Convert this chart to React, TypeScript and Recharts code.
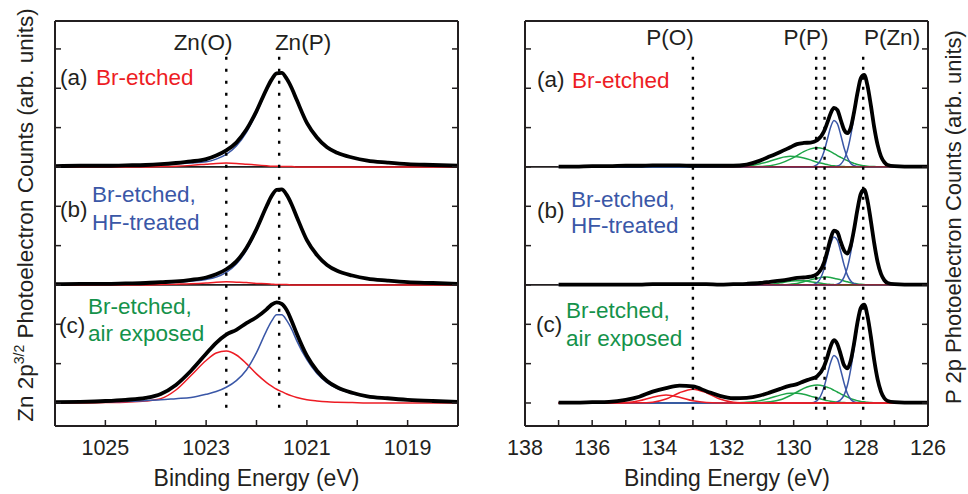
import React from 'react';
import { LineChart, Line, XAxis, YAxis, ReferenceLine } from 'recharts';

// ---------- Zn 2p3/2 panel ----------
const znEnergy = [1026, 1025.5, 1025, 1024.6, 1024.2, 1023.9, 1023.6, 1023.3, 1023.0, 1022.8, 1022.6, 1022.4, 1022.2, 1022.0, 1021.8, 1021.7, 1021.6, 1021.5, 1021.4, 1021.3, 1021.2, 1021.0, 1020.8, 1020.6, 1020.4, 1020.1, 1019.8, 1019.4, 1019.0, 1018.5, 1018.0];

const znBlackA = [0.02, 0.03, 0.03, 0.04, 0.05, 0.07, 0.10, 0.14, 0.20, 0.29, 0.42, 0.62, 0.95, 1.42, 1.98, 2.22, 2.38, 2.39, 2.24, 2.00, 1.70, 1.12, 0.75, 0.50, 0.36, 0.24, 0.16, 0.11, 0.07, 0.05, 0.03];
const znBlueA = [0.02, 0.03, 0.03, 0.04, 0.05, 0.06, 0.08, 0.10, 0.13, 0.20, 0.32, 0.53, 0.88, 1.37, 1.95, 2.20, 2.36, 2.38, 2.23, 1.99, 1.70, 1.12, 0.75, 0.50, 0.36, 0.24, 0.16, 0.11, 0.07, 0.05, 0.03];
const znRedA = [0, 0, 0, 0, 0, 0.01, 0.02, 0.04, 0.07, 0.09, 0.10, 0.09, 0.07, 0.05, 0.03, 0.02, 0.02, 0.01, 0.01, 0.01, 0, 0, 0, 0, 0, 0, 0, 0, 0, 0, 0];

const znBlackB = [0.02, 0.03, 0.03, 0.04, 0.05, 0.07, 0.09, 0.13, 0.19, 0.27, 0.40, 0.60, 0.94, 1.42, 2.00, 2.26, 2.42, 2.43, 2.29, 2.04, 1.73, 1.14, 0.76, 0.51, 0.36, 0.24, 0.16, 0.11, 0.07, 0.05, 0.03];
const znBlueB = [0.02, 0.03, 0.03, 0.04, 0.05, 0.06, 0.07, 0.10, 0.14, 0.20, 0.32, 0.53, 0.88, 1.38, 1.97, 2.24, 2.41, 2.42, 2.28, 2.04, 1.73, 1.14, 0.76, 0.51, 0.36, 0.24, 0.16, 0.11, 0.07, 0.05, 0.03];
const znRedB = [0, 0, 0, 0, 0, 0.01, 0.02, 0.03, 0.05, 0.07, 0.08, 0.07, 0.06, 0.04, 0.03, 0.02, 0.01, 0.01, 0.01, 0, 0, 0, 0, 0, 0, 0, 0, 0, 0, 0, 0];

const znBlackC = [0.02, 0.03, 0.05, 0.08, 0.13, 0.23, 0.46, 0.82, 1.25, 1.53, 1.74, 1.86, 2.03, 2.18, 2.38, 2.50, 2.56, 2.52, 2.36, 2.08, 1.76, 1.20, 0.82, 0.56, 0.40, 0.26, 0.17, 0.12, 0.08, 0.05, 0.03];
const znBlueC = [0.01, 0.02, 0.03, 0.04, 0.06, 0.08, 0.11, 0.14, 0.22, 0.29, 0.40, 0.57, 0.84, 1.28, 1.84, 2.08, 2.24, 2.24, 2.10, 1.87, 1.58, 1.10, 0.75, 0.52, 0.37, 0.24, 0.16, 0.11, 0.07, 0.05, 0.03];
const znRedC = [0, 0, 0.01, 0.02, 0.05, 0.11, 0.33, 0.70, 1.08, 1.27, 1.32, 1.22, 1.00, 0.74, 0.52, 0.43, 0.35, 0.29, 0.23, 0.18, 0.14, 0.08, 0.05, 0.03, 0.02, 0.01, 0, 0, 0, 0, 0];

const znTicks = [1019, 1020, 1021, 1022, 1023, 1024, 1025];
const znTickLabels = [1019, 1021, 1023, 1025];
const znMarkers = [1022.6, 1021.55];

// ---------- P 2p panel ----------
const pEnergy = [137.0, 136.5, 136.0, 135.5, 135.0, 134.6, 134.2, 133.8, 133.4, 133.0, 132.6, 132.2, 131.8, 131.4, 131.0, 130.7, 130.4, 130.1, 129.9, 129.7, 129.5, 129.3, 129.1, 129.0, 128.9, 128.8, 128.7, 128.6, 128.5, 128.4, 128.3, 128.2, 128.1, 128.0, 127.9, 127.8, 127.7, 127.6, 127.5, 127.4, 127.3, 127.2, 127.0, 126.7, 126.4, 126.0];

const pBlackA = [0.01, 0.01, 0.02, 0.02, 0.03, 0.03, 0.04, 0.04, 0.04, 0.03,
  0.03, 0.03, 0.03, 0.06, 0.16, 0.27, 0.38, 0.50, 0.58, 0.61,
  0.62, 0.68, 0.90, 1.12, 1.36, 1.50, 1.45, 1.20, 0.95, 0.86,
  1.00, 1.40, 1.88, 2.26, 2.34, 2.06, 1.56, 1.00, 0.56, 0.27,
  0.12, 0.05, 0.02, 0.01, 0.01, 0.01];
const pBlue1A = [0, 0, 0, 0, 0, 0, 0, 0, 0, 0,
  0, 0, 0, 0, 0, 0, 0, 0, 0, 0,
  0, 0, 0, 0, 0, 0, 0.02, 0.07, 0.19, 0.42,
  0.80, 1.31, 1.84, 2.21, 2.28, 2.02, 1.53, 0.99, 0.55, 0.26,
  0.11, 0.04, 0, 0, 0, 0];
const pBlue2A = [0, 0, 0, 0, 0, 0, 0, 0, 0, 0,
  0, 0, 0, 0, 0, 0, 0, 0, 0, 0,
  0, 0.06, 0.38, 0.69, 1.01, 1.18, 1.10, 0.82, 0.49, 0.24,
  0.09, 0.03, 0.01, 0, 0, 0, 0, 0, 0, 0,
  0, 0, 0, 0, 0, 0];
const pGreen1A = [0, 0, 0, 0, 0, 0, 0, 0, 0, 0,
  0, 0, 0, 0, 0.01, 0.03, 0.09, 0.20, 0.29, 0.39,
  0.46, 0.49, 0.46, 0.43, 0.39, 0.34, 0.29, 0.245, 0.20, 0.16,
  0.12, 0.09, 0.06, 0.045, 0.03, 0.02, 0.013, 0.01, 0.005, 0,
  0, 0, 0, 0, 0, 0];
const pGreen2A = [0, 0, 0, 0, 0, 0, 0, 0, 0, 0,
  0, 0, 0, 0.02, 0.08, 0.15, 0.23, 0.27, 0.26, 0.23,
  0.18, 0.12, 0.08, 0.06, 0.04, 0.03, 0.02, 0.01, 0.01, 0,
  0, 0, 0, 0, 0, 0, 0, 0, 0, 0,
  0, 0, 0, 0, 0, 0];
const pRedA = [0, 0, 0.005, 0.01, 0.015, 0.02, 0.02, 0.02, 0.02, 0.015,
  0.01, 0.005, 0, 0, 0, 0, 0, 0, 0, 0,
  0, 0, 0, 0, 0, 0, 0, 0, 0, 0,
  0, 0, 0, 0, 0, 0, 0, 0, 0, 0,
  0, 0, 0, 0, 0, 0];

const pBlackB = [0.01, 0.01, 0.01, 0.01, 0.01, 0.01, 0.02, 0.02, 0.02, 0.02,
  0.02, 0.01, 0.02, 0.03, 0.05, 0.08, 0.11, 0.15, 0.18, 0.19,
  0.21, 0.28, 0.56, 0.85, 1.18, 1.38, 1.34, 1.10, 0.88, 0.80,
  1.00, 1.42, 1.92, 2.32, 2.42, 2.14, 1.62, 1.05, 0.58, 0.28,
  0.12, 0.05, 0.02, 0.01, 0.01, 0.01];
const pBlue1B = [0, 0, 0, 0, 0, 0, 0, 0, 0, 0,
  0, 0, 0, 0, 0, 0, 0, 0, 0, 0,
  0, 0, 0, 0, 0, 0, 0.02, 0.07, 0.20, 0.44,
  0.83, 1.36, 1.90, 2.29, 2.36, 2.09, 1.59, 1.03, 0.57, 0.27,
  0.11, 0.04, 0, 0, 0, 0];
const pBlue2B = [0, 0, 0, 0, 0, 0, 0, 0, 0, 0,
  0, 0, 0, 0, 0, 0, 0, 0, 0, 0,
  0, 0.06, 0.39, 0.71, 1.04, 1.22, 1.14, 0.85, 0.51, 0.25,
  0.10, 0.03, 0.01, 0, 0, 0, 0, 0, 0, 0,
  0, 0, 0, 0, 0, 0];
const pGreen1B = [0, 0, 0, 0, 0, 0, 0, 0, 0, 0,
  0, 0, 0, 0, 0, 0, 0, 0.02, 0.04, 0.08,
  0.13, 0.17, 0.20, 0.20, 0.19, 0.17, 0.15, 0.13, 0.10, 0.08,
  0.055, 0.04, 0.025, 0.016, 0.01, 0.005, 0, 0, 0, 0,
  0, 0, 0, 0, 0, 0];
const pGreen2B = [0, 0, 0, 0, 0, 0, 0, 0, 0, 0,
  0, 0, 0, 0, 0.005, 0.02, 0.055, 0.095, 0.11, 0.105,
  0.083, 0.055, 0.03, 0.02, 0.014, 0.009, 0.005, 0, 0, 0,
  0, 0, 0, 0, 0, 0, 0, 0, 0, 0,
  0, 0, 0, 0, 0, 0];
const pRedB = [0, 0, 0, 0, 0, 0, 0.01, 0.01, 0.01, 0.01,
  0, 0, 0, 0, 0, 0, 0, 0, 0, 0,
  0, 0, 0, 0, 0, 0, 0, 0, 0, 0,
  0, 0, 0, 0, 0, 0, 0, 0, 0, 0,
  0, 0, 0, 0, 0, 0];

const pBlackC = [0.01, 0.01, 0.02, 0.03, 0.08, 0.16, 0.29, 0.38, 0.44, 0.42,
  0.30, 0.18, 0.12, 0.13, 0.19, 0.27, 0.36, 0.44, 0.48, 0.55,
  0.61, 0.68, 0.92, 1.16, 1.44, 1.60, 1.50, 1.24, 0.96, 0.88,
  1.08, 1.52, 2.05, 2.42, 2.50, 2.20, 1.68, 1.08, 0.60, 0.29,
  0.12, 0.05, 0.02, 0.01, 0.01, 0.01];
const pBlue1C = [0, 0, 0, 0, 0, 0, 0, 0, 0, 0,
  0, 0, 0, 0, 0, 0, 0, 0, 0, 0,
  0, 0, 0, 0, 0, 0, 0.03, 0.08, 0.20, 0.45,
  0.86, 1.40, 1.96, 2.36, 2.43, 2.15, 1.63, 1.06, 0.59, 0.28,
  0.12, 0.04, 0, 0, 0, 0];
const pBlue2C = [0, 0, 0, 0, 0, 0, 0, 0, 0, 0,
  0, 0, 0, 0, 0, 0, 0, 0, 0, 0,
  0, 0.06, 0.39, 0.71, 1.03, 1.21, 1.13, 0.84, 0.51, 0.24,
  0.09, 0.03, 0.01, 0, 0, 0, 0, 0, 0, 0,
  0, 0, 0, 0, 0, 0];
const pGreen1C = [0, 0, 0, 0, 0, 0, 0, 0, 0, 0,
  0, 0, 0, 0, 0.01, 0.03, 0.08, 0.19, 0.28, 0.37,
  0.43, 0.46, 0.43, 0.40, 0.37, 0.32, 0.28, 0.23, 0.19, 0.15,
  0.11, 0.08, 0.06, 0.04, 0.03, 0.02, 0.012, 0.008, 0.005, 0,
  0, 0, 0, 0, 0, 0];
const pGreen2C = [0, 0, 0, 0, 0, 0, 0, 0, 0, 0,
  0, 0, 0.003, 0.016, 0.06, 0.125, 0.20, 0.247, 0.247, 0.22,
  0.175, 0.125, 0.08, 0.06, 0.045, 0.033, 0.023, 0.016, 0.01, 0.007,
  0.004, 0, 0, 0, 0, 0, 0, 0, 0, 0,
  0, 0, 0, 0, 0, 0];
const pRed1C = [0, 0, 0, 0, 0, 0.003, 0.02, 0.10, 0.26, 0.35,
  0.26, 0.10, 0.02, 0.003, 0, 0, 0, 0, 0, 0,
  0, 0, 0, 0, 0, 0, 0, 0, 0, 0,
  0, 0, 0, 0, 0, 0, 0, 0, 0, 0,
  0, 0, 0, 0, 0, 0];
const pRed2C = [0, 0, 0, 0.002, 0.013, 0.058, 0.147, 0.20, 0.147, 0.058,
  0.013, 0.002, 0, 0, 0, 0, 0, 0, 0, 0,
  0, 0, 0, 0, 0, 0, 0, 0, 0, 0,
  0, 0, 0, 0, 0, 0, 0, 0, 0, 0,
  0, 0, 0, 0, 0, 0];

const pTicks = [126, 127, 128, 129, 130, 131, 132, 133, 134, 135, 136, 137, 138];
const pTickLabels = [126, 128, 130, 132, 134, 136, 138];
const pMarkers = [133.0, 129.33, 129.08, 127.93];

// vertical offsets of the three stacked spectra (a), (b), (c)
const offA = 6;
const offB = 3;
const offC = 0;
const yTicks = [0, 1, 2, 3, 4, 5, 6, 7, 8, 9];

// ---------- styles ----------
const FONT = '"Liberation Sans", Arial, Helvetica, sans-serif';
const INK = '#231f20';
const RED = '#ed1c24';
const BLUE = '#3a57a7';
const GREEN = '#1ea548';
const GREEN_TEXT = '#14924a';

type S = { key: string; values: number[]; offset: number; color: string; width: number };

const znSeries: S[] = [
  { key: 'redA', values: znRedA, offset: offA, color: RED, width: 1.5 },
  { key: 'blueA', values: znBlueA, offset: offA, color: BLUE, width: 1.5 },
  { key: 'blackA', values: znBlackA, offset: offA, color: '#000', width: 3.8 },
  { key: 'redB', values: znRedB, offset: offB, color: RED, width: 1.5 },
  { key: 'blueB', values: znBlueB, offset: offB, color: BLUE, width: 1.5 },
  { key: 'blackB', values: znBlackB, offset: offB, color: '#000', width: 3.8 },
  { key: 'redC', values: znRedC, offset: offC, color: RED, width: 1.5 },
  { key: 'blueC', values: znBlueC, offset: offC, color: BLUE, width: 1.5 },
  { key: 'blackC', values: znBlackC, offset: offC, color: '#000', width: 3.8 },
];

const pSeries: S[] = [
  { key: 'g1A', values: pGreen1A, offset: offA, color: GREEN, width: 1.5 },
  { key: 'g2A', values: pGreen2A, offset: offA, color: GREEN, width: 1.5 },
  { key: 'b1A', values: pBlue1A, offset: offA, color: BLUE, width: 1.5 },
  { key: 'b2A', values: pBlue2A, offset: offA, color: BLUE, width: 1.5 },
  { key: 'rA', values: pRedA, offset: offA, color: '#a3161c', width: 1.2 },
  { key: 'kA', values: pBlackA, offset: offA, color: '#000', width: 3.8 },
  { key: 'g1B', values: pGreen1B, offset: offB, color: GREEN, width: 1.5 },
  { key: 'g2B', values: pGreen2B, offset: offB, color: GREEN, width: 1.5 },
  { key: 'b1B', values: pBlue1B, offset: offB, color: BLUE, width: 1.5 },
  { key: 'b2B', values: pBlue2B, offset: offB, color: BLUE, width: 1.5 },
  { key: 'rB', values: pRedB, offset: offB, color: '#a3161c', width: 1.2 },
  { key: 'kB', values: pBlackB, offset: offB, color: '#000', width: 3.8 },
  { key: 'g1C', values: pGreen1C, offset: offC, color: GREEN, width: 1.5 },
  { key: 'g2C', values: pGreen2C, offset: offC, color: GREEN, width: 1.5 },
  { key: 'b1C', values: pBlue1C, offset: offC, color: BLUE, width: 1.5 },
  { key: 'b2C', values: pBlue2C, offset: offC, color: BLUE, width: 1.5 },
  { key: 'r1C', values: pRed1C, offset: offC, color: RED, width: 1.5 },
  { key: 'r2C', values: pRed2C, offset: offC, color: RED, width: 1.5 },
  { key: 'kC', values: pBlackC, offset: offC, color: '#000', width: 3.8 },
];

function buildRows(energy: number[], series: S[]) {
  return energy.map((e, i) => {
    const row: Record<string, number> = { e };
    series.forEach((s) => {
      row[s.key] = s.values[i] + s.offset;
    });
    return row;
  });
}

const znRows = buildRows(znEnergy, znSeries);
const pRows = buildRows(pEnergy, pSeries);

const Y_DOMAIN: [number, number] = [-0.585, 9.71];
const noTick = () => null;

type PanelProps = {
  rows: Record<string, number>[];
  series: S[];
  domain: [number, number];
  ticks: number[];
  labels: number[];
  markers: number[];
  dash: string;
  left: number;
  margin: { top: number; right: number; bottom: number; left: number };
};

function Panel({ rows, series, domain, ticks, labels, markers, dash, left, margin }: PanelProps) {
  const axisLine = { stroke: INK, strokeWidth: 2 };
  const tickLine = { stroke: INK, strokeWidth: 1.5 };
  return (
    <div style={{ position: 'absolute', left, top: 0 }}>
      <LineChart width={484} height={494} data={rows} margin={margin}>
        <XAxis
          dataKey="e"
          type="number"
          domain={domain}
          reversed
          allowDataOverflow
          ticks={ticks}
          interval={0}
          height={50}
          tickSize={-6}
          tickMargin={20}
          axisLine={axisLine}
          tickLine={tickLine}
          tickFormatter={(v: number) => (labels.includes(v) ? String(v) : '')}
          tick={{ fill: INK, fontSize: 21.5, fontFamily: FONT }}
        />
        <XAxis
          xAxisId="top"
          orientation="top"
          type="number"
          domain={domain}
          reversed
          allowDataOverflow
          ticks={ticks}
          interval={0}
          height={20}
          tickSize={-6}
          axisLine={axisLine}
          tickLine={tickLine}
          tick={noTick}
        />
        <YAxis
          type="number"
          domain={Y_DOMAIN}
          allowDataOverflow
          ticks={yTicks}
          interval={0}
          width={30}
          tickSize={-6}
          axisLine={axisLine}
          tickLine={tickLine}
          tick={noTick}
        />
        <YAxis
          yAxisId="r"
          orientation="right"
          type="number"
          domain={Y_DOMAIN}
          allowDataOverflow
          ticks={yTicks}
          interval={0}
          width={20}
          tickSize={-6}
          axisLine={axisLine}
          tickLine={tickLine}
          tick={noTick}
        />
        <ReferenceLine y={offA} stroke={INK} strokeWidth={1.8} />
        <ReferenceLine y={offB} stroke={INK} strokeWidth={1.8} />
        {series.map((s) => (
          <Line
            key={s.key}
            dataKey={s.key}
            type="monotone"
            stroke={s.color}
            strokeWidth={s.width}
            dot={false}
            activeDot={false}
            isAnimationActive={false}
          />
        ))}
        {markers.map((m) => (
          <ReferenceLine
            key={'m' + m}
            segment={[{ x: m, y: 8.8 }, { x: m, y: -0.2 }]}
            stroke="#000"
            strokeWidth={2.4}
            strokeDasharray={dash}
          />
        ))}
      </LineChart>
    </div>
  );
}

const T = ({ x, y, c = INK, a = 'start', s = 22.5, children }: any) => (
  <text x={x} y={y} fill={c} textAnchor={a} fontSize={s} fontFamily={FONT}>
    {children}
  </text>
);

export default function App() {
  return (
    <div style={{ position: 'absolute', left: 0, top: 0, width: 968, height: 494, background: '#fff', overflow: 'hidden' }}>
      <Panel
        rows={znRows}
        series={znSeries}
        domain={[1018, 1026]}
        ticks={znTicks}
        labels={znTickLabels}
        markers={znMarkers}
        dash="3 9"
        left={0}
        margin={{ top: 1, right: 6, bottom: 18, left: 25 }}
      />
      <Panel
        rows={pRows}
        series={pSeries}
        domain={[126, 138]}
        ticks={pTicks}
        labels={pTickLabels}
        markers={pMarkers}
        dash="3 7"
        left={484}
        margin={{ top: 1, right: 20, bottom: 18, left: 11 }}
      />
      <svg width={968} height={494} style={{ position: 'absolute', left: 0, top: 0, pointerEvents: 'none' }}>
        {/* Zn panel */}
        <T x={203} y={50} a="middle">Zn(O)</T>
        <T x={303} y={50} a="middle">Zn(P)</T>
        <T x={60} y={85}>(a)</T>
        <T x={96} y={85} c={RED}>Br-etched</T>
        <T x={60} y={217}>(b)</T>
        <T x={92} y={202} c={BLUE}>Br-etched,</T>
        <T x={92} y={230} c={BLUE}>HF-treated</T>
        <T x={59} y={333}>(c)</T>
        <T x={88} y={314} c={GREEN_TEXT}>Br-etched,</T>
        <T x={88} y={341} c={GREEN_TEXT}>air exposed</T>
        <T x={256.5} y={486} a="middle" s={23}>Binding Energy (eV)</T>
        <text transform="translate(33,215) rotate(-90)" textAnchor="middle" fill={INK} fontSize={22.5} fontFamily={FONT}>
          Zn 2p<tspan fontSize={14} dy={-9}>3/2</tspan><tspan dy={9}> Photoelectron Counts (arb. units)</tspan>
        </text>
        {/* P panel */}
        <T x={670} y={44.5} a="middle">P(O)</T>
        <T x={806} y={44.5} a="middle">P(P)</T>
        <T x={892} y={44.5} a="middle">P(Zn)</T>
        <T x={537} y={87}>(a)</T>
        <T x={572} y={88} c={RED}>Br-etched</T>
        <T x={537} y={218}>(b)</T>
        <T x={571} y={207} c={BLUE}>Br-etched,</T>
        <T x={571} y={233} c={BLUE}>HF-treated</T>
        <T x={536} y={332}>(c)</T>
        <T x={566} y={318} c={GREEN_TEXT}>Br-etched,</T>
        <T x={566} y={346} c={GREEN_TEXT}>air exposed</T>
        <T x={727} y={486} a="middle" s={23}>Binding Energy (eV)</T>
        <text transform="translate(961,217) rotate(-90)" textAnchor="middle" fill={INK} fontSize={22} fontFamily={FONT}>
          P 2p Photoelectron Counts (arb. units)
        </text>
      </svg>
    </div>
  );
}
